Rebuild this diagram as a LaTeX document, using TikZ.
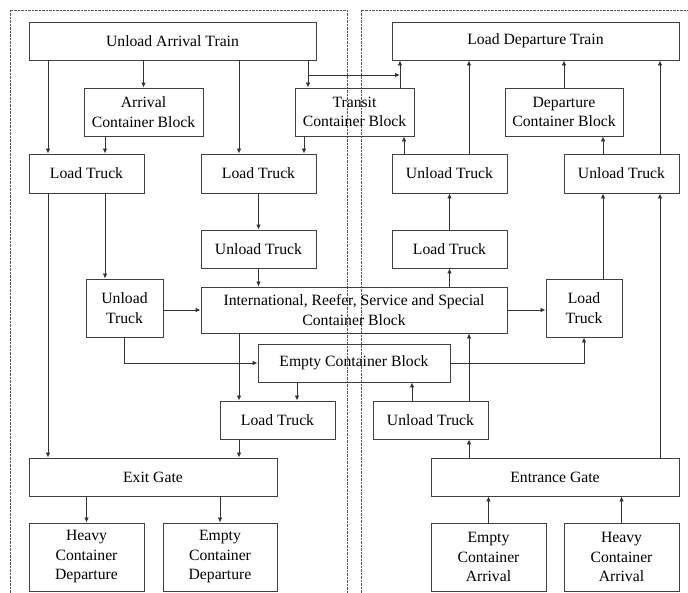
\documentclass[tikz,border=0pt]{standalone}
\usepackage{fontspec}
\setmainfont{Liberation Serif}
\usetikzlibrary{arrows.meta}
\tikzset{
  blk/.style={draw=black!75, line width=0.9pt, align=center, inner sep=0pt,
    minimum width=115, minimum height=38, font=\fontsize{15.7}{19.5}\selectfont},
  arr/.style={draw=black!80, line width=0.8pt, -{Latex[length=5pt,width=4.5pt]}},
  frame/.style={draw=black!65, line width=0.7pt, dash pattern=on 0.7pt off 0.7pt}
}
\begin{document}
\begin{tikzpicture}[x=1pt, y=-1pt]
      \useasboundingbox (0,0) rectangle (688,593);
      \draw[frame] (10,593) -- (10,10) -- (347,10) -- (347,593);
      \draw[frame] (361,593) -- (361,10) -- (688,10);

      % arrival side
      \node[blk, minimum width=287] (uat)  at  (172.5, 41){Unload Arrival Train};
      \node[blk, minimum width=119, minimum height=48] (acb)  at  (143.5, 112){Arrival\\Container Block};
      \node[blk, minimum width=119, minimum height=48] (tcb)  at  (354.5, 112){Transit\\Container Block};
      \node[blk, minimum height=39] (lt1)  at  (86.5, 173.5){Load Truck};
      \node[blk, minimum height=39] (lt2)  at  (258.5, 173.5){Load Truck};
      \node[blk] (ut2)  at  (258.5, 249){Unload Truck};
      \node[blk, minimum width=77, minimum height=58] (ut1)  at  (124.5, 308){Unload\\Truck};
      \node[blk, minimum width=306, minimum height=46] (irs)  at  (354, 310){International, Reefer, Service and Special\\Container Block};
      \node[blk, minimum width=192] (ecb)  at  (354, 363){Empty Container Block};
      \node[blk] (lt3)  at  (277.5, 420){Load Truck};
      \node[blk, minimum width=248] (exit)  at  (153, 477){Exit Gate};
      \node[blk, minimum height=68] (hcd)  at  (86.5, 557){Heavy\\Container\\Departure};
      \node[blk, minimum width=114, minimum height=68] (ecd)  at  (220, 557){Empty\\Container\\Departure};

      % departure side
      \node[blk, minimum width=287] (ldt)  at  (535.5, 41){Load Departure Train};
      \node[blk, minimum width=118, minimum height=48] (dcb)  at  (564, 112){Departure\\Container Block};
      \node[blk, minimum height=39] (ut3)  at  (449.5, 173.5){Unload Truck};
      \node[blk, minimum height=39] (ut4)  at  (621.5, 173.5){Unload Truck};
      \node[blk] (lt4)  at  (449.5, 249){Load Truck};
      \node[blk, minimum width=76, minimum height=58] (lt5)  at  (584, 308){Load\\Truck};
      \node[blk] (ut5)  at  (430.5, 420){Unload Truck};
      \node[blk, minimum width=248] (entr)  at  (555, 477){Entrance Gate};
      \node[blk, minimum height=68] (eca)  at  (488.5, 557){Empty\\Container\\Arrival};
      \node[blk, minimum height=68] (hca)  at  (621.5, 557){Heavy\\Container\\Arrival};
      \coordinate (tjoin) at (400, 75);

      \draw[arr] (uat.south -| 48,0) -- (lt1.north -| 48,0);
      \draw[arr] (uat.south -| acb.north) -- (acb.north);
      \draw[arr] (uat.south -| 239,0) -- (lt2.north -| 239,0);
      \draw[arr] (uat.south -| 308,0) -- (tcb.north -| 308,0);
      \draw[arr] (uat.south -| 308,0) |- (tjoin);
      \draw[arr] (tcb.north -| tjoin) -- (ldt.south -| tjoin);
      \draw[arr] (acb.south -| 105,0) -- (lt1.north -| 105,0);
      \draw[arr] (tcb.south -| 304,0) -- (lt2.north -| 304,0);
      \draw[arr] (lt1.south -| 105,0) -- (ut1.north -| 105,0);
      \draw[arr] (lt1.south -| 48,0) -- (exit.north -| 48,0);
      \draw[arr] (lt2.south -| ut2.north) -- (ut2.north);
      \draw[arr] (ut2.south) -- (irs.north -| ut2.south);
      \draw[arr] (ut1.east |- irs.west) -- (irs.west);
      \draw[arr] (ut1.south) |- (ecb.west);
      \draw[arr] (irs.south -| 239,0) -- (lt3.north -| 239,0);
      \draw[arr] (ecb.south -| 297,0) -- (lt3.north -| 297,0);
      \draw[arr] (lt3.south -| 239,0) -- (exit.north -| 239,0);
      \draw[arr] (exit.south -| hcd.north) -- (hcd.north);
      \draw[arr] (exit.south -| ecd.north) -- (ecd.north);

      \draw[arr] (ut3.north -| 404,0) -- (tcb.south -| 404,0);
      \draw[arr] (ut3.north -| 469,0) -- (ldt.south -| 469,0);
      \draw[arr] (dcb.north) -- (ldt.south -| dcb.north);
      \draw[arr] (ut4.north -| 603,0) -- (dcb.south -| 603,0);
      \draw[arr] (ut4.north -| 660,0) -- (ldt.south -| 660,0);
      \draw[arr] (lt4.north) -- (ut3.south);
      \draw[arr] (irs.north -| lt4.south) -- (lt4.south);
      \draw[arr] (irs.east) -- (irs.east -| lt5.west);
      \draw[arr] (ecb.east) -| (lt5.south);
      \draw[arr] (lt5.north -| 603,0) -- (ut4.south -| 603,0);
      \draw[arr] (ut5.north -| 412,0) -- (ecb.south -| 412,0);
      \draw[arr] (ut5.north -| 469,0) -- (irs.south -| 469,0);
      \draw[arr] (entr.north -| 469,0) -- (ut5.south -| 469,0);
      \draw[arr] (entr.north -| 660,0) -- (ut4.south -| 660,0);
      \draw[arr] (eca.north) -- (eca.north |- entr.south);
      \draw[arr] (hca.north) -- (hca.north |- entr.south);
    \end{tikzpicture}
\end{document}
